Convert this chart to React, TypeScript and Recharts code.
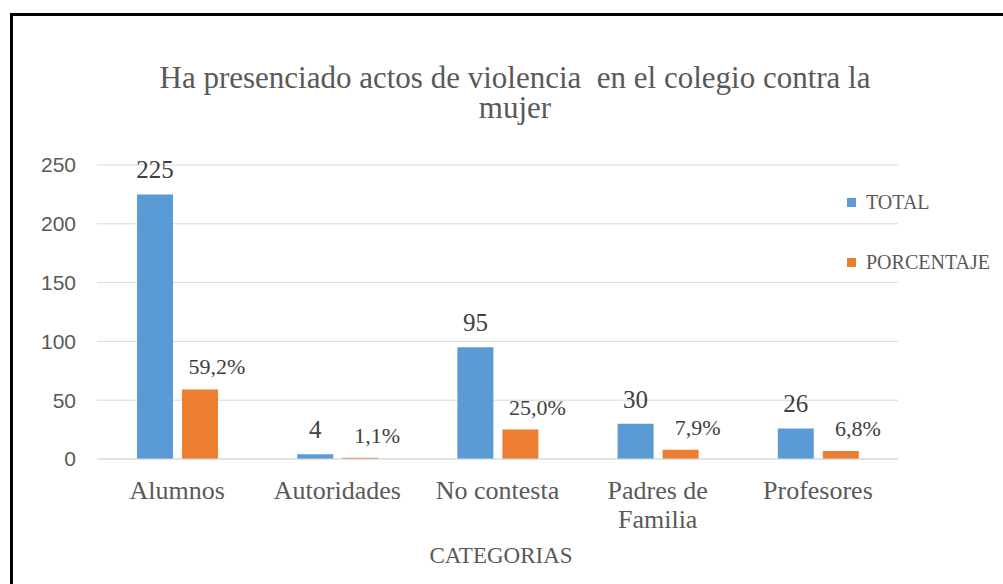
import { Bar, BarChart, CartesianGrid, LabelList, Legend, XAxis, YAxis } from "recharts"

const categories = ["Alumnos", "Autoridades", "No contesta", "Padres de Familia", "Profesores"]
const totals = [225, 4, 95, 30, 26]
const percentages = [59.2, 1.1, 25.0, 7.9, 6.8]
const yTicks = [0, 50, 100, 150, 200, 250]
const seriesNames = ["TOTAL", "PORCENTAJE"]

const SERIF = '"Liberation Serif", "Times New Roman", serif'
const SANS = '"Liberation Sans", Arial, sans-serif'
const BLUE = "#5b9bd5"
const ORANGE = "#ed7d31"

const data = categories.map((name, i) => ({
    name,
    total: totals[i],
    porcentaje: percentages[i],
}))

// break long category names into lines of about 12 characters
const wrapLabel = (label: string) => {
    const lines: string[] = []
    let current = ""
    label.split(" ").forEach((word) => {
        const next = current ? current + " " + word : word
        if (next.length > 12 && current) {
            lines.push(current)
            current = word
        } else {
            current = next
        }
    })
    if (current) lines.push(current)
    return lines
}

const CategoryTick = (props: any) => {
    const { x, y, payload } = props
    const lines = wrapLabel(String(payload.value))
    return (
        <text x={x} y={y + 40} textAnchor="middle" fill="#595959" style={{ fontFamily: SERIF, fontSize: 26 }}>
            {lines.map((line, i) => (
                <tspan key={i} x={x} dy={i === 0 ? 0 : 29}>
                    {line}
                </tspan>
            ))}
        </text>
    )
}

const TotalLabel = (props: any) => {
    const { x, y, width, value } = props
    return (
        <text x={x + width / 2} y={y - 16} textAnchor="middle" fill="#404040" style={{ fontFamily: SERIF, fontSize: 25 }}>
            {value}
        </text>
    )
}

const PercentLabel = (props: any) => {
    const { x, y, width, value } = props
    return (
        <text x={x + width / 2 + 17} y={y - 15} textAnchor="middle" fill="#404040" style={{ fontFamily: SERIF, fontSize: 22 }}>
            {Number(value).toFixed(1).replace(".", ",") + "%"}
        </text>
    )
}

const LegendBox = (props: any) => {
    const items = [...(props.payload || [])].sort(
        (a: any, b: any) => seriesNames.indexOf(a.value) - seriesNames.indexOf(b.value)
    )
    return (
        <div>
            {items.map((entry: any, i: number) => (
                <div key={i} style={{ display: "flex", alignItems: "center", height: 24, marginBottom: 36 }}>
                    <span style={{ width: 9, height: 9, background: entry.color, display: "inline-block", marginRight: 10 }} />
                    <span style={{ fontFamily: SERIF, fontSize: 20, color: "#595959", whiteSpace: "nowrap" }}>{entry.value}</span>
                </div>
            ))}
        </div>
    )
}

const App = () => {
    return (
        <div style={{ position: "absolute", left: 0, top: 0, width: 1003, height: 584, background: "#fff", overflow: "hidden" }}>
            <div style={{ position: "absolute", left: 10, top: 13, width: 1100, height: 700, border: "3px solid #000" }} />
            <svg width={1003} height={584} style={{ position: "absolute", left: 0, top: 0 }}>
                <text x={515} y={88} textAnchor="middle" fill="#595959" style={{ fontFamily: SERIF, fontSize: 31, whiteSpace: "pre" }}>
                    Ha presenciado actos de violencia  en el colegio contra la
                </text>
                <text x={515} y={118} textAnchor="middle" fill="#595959" style={{ fontFamily: SERIF, fontSize: 31 }}>
                    mujer
                </text>
                <text x={501} y={563} textAnchor="middle" fill="#595959" style={{ fontFamily: SERIF, fontSize: 23 }}>
                    CATEGORIAS
                </text>
            </svg>
            <div style={{ position: "absolute", left: 0, top: 0 }}>
                <BarChart width={1003} height={584} data={data} margin={{ top: 165, right: 105, bottom: 65, left: 0 }} barGap={9}>
                    <CartesianGrid vertical={false} stroke="#d9d9d9" />
                    <XAxis
                        dataKey="name"
                        height={60}
                        axisLine={{ stroke: "#d9d9d9" }}
                        tickLine={false}
                        tickSize={0}
                        tickMargin={0}
                        interval={0}
                        tick={<CategoryTick />}
                    />
                    <YAxis
                        width={97}
                        domain={[0, 250]}
                        ticks={yTicks}
                        axisLine={false}
                        tickLine={false}
                        tickSize={0}
                        tickMargin={21}
                        tick={{ fill: "#595959", fontSize: 21, fontFamily: SANS }}
                    />
                    <Legend
                        layout="vertical"
                        align="center"
                        verticalAlign="middle"
                        wrapperStyle={{ left: 847, top: 190, width: 160 }}
                        content={<LegendBox />}
                    />
                    <Bar dataKey="total" name={seriesNames[0]} fill={BLUE} barSize={36} isAnimationActive={false}>
                        <LabelList dataKey="total" content={<TotalLabel />} />
                    </Bar>
                    <Bar dataKey="porcentaje" name={seriesNames[1]} fill={ORANGE} barSize={36} isAnimationActive={false}>
                        <LabelList dataKey="porcentaje" content={<PercentLabel />} />
                    </Bar>
                </BarChart>
            </div>
        </div>
    )
}

export default App
